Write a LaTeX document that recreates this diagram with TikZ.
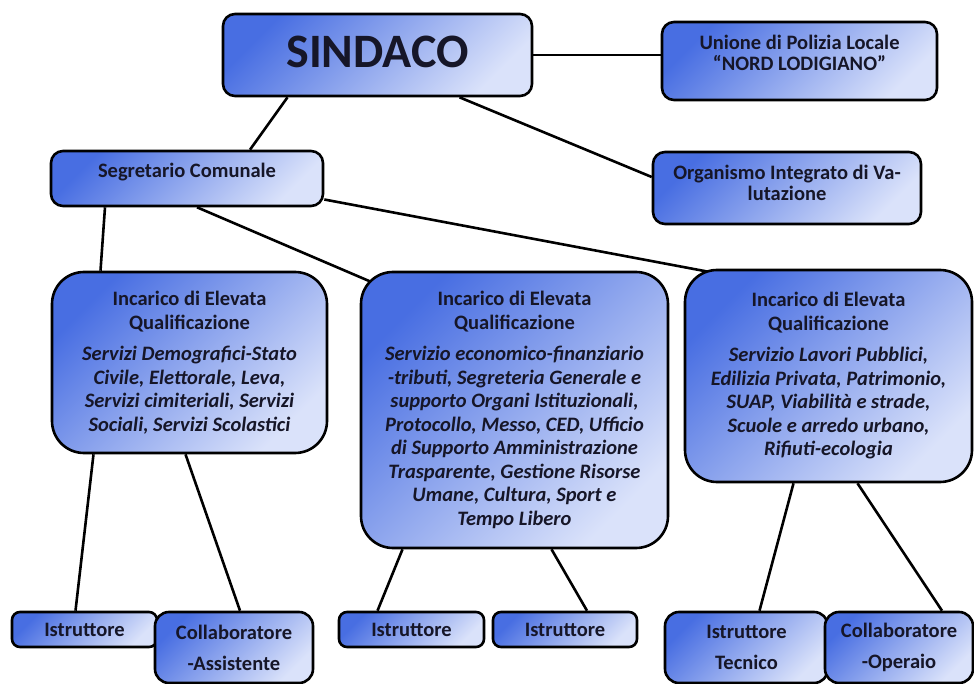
\documentclass[tikz,border=0pt]{standalone}
\usepackage{fontspec}
\setmainfont{Carlito}
\usetikzlibrary{positioning, backgrounds}
\definecolor{boxdark}{RGB}{72, 110, 226}
\definecolor{boxlight}{RGB}{218, 226, 250}
\definecolor{boxtext}{RGB}{22, 22, 40}

\begin{document}
\begin{tikzpicture}[x=1pt, y=-1pt,
    box/.style={rectangle, rounded corners=12pt, draw, line width=2.6pt, top color=boxdark, bottom color=boxlight, shading angle=45, text=boxtext, align=center, inner sep=0pt, font=\bfseries\fontsize{20.5}{23.5}\selectfont},
    bigbox/.style={box, rounded corners=32pt},
    twoline/.style={box, rounded corners=14pt, minimum height=71, font=\bfseries\fontsize{20.5}{31}\selectfont},
    link/.style={line width=2.6pt}
]
\clip (0,0) rectangle (974,684);

% Top level
\node[box, minimum width=309, minimum height=82, text depth=7pt, font=\bfseries\fontsize{48}{50}\selectfont] (sindaco) at (377.5,55) {SINDACO};
\node[box, minimum width=275, minimum height=78, text depth=16pt, font=\bfseries\fontsize{20.5}{20.5}\selectfont] (polizia) at (799.5,61) {Unione di Polizia Locale\\``NORD LODIGIANO''};
\node[box, minimum width=268, minimum height=72, text depth=11pt, font=\bfseries\fontsize{20.5}{21}\selectfont] (oiv) at (787,188) {Organismo Integrato di Va-\\lutazione};
\node[box, minimum width=272, minimum height=55, text depth=16pt] (segretario) at (187,178.5) {Segretario Comunale};

% Incarichi di Elevata Qualificazione
\node[bigbox, minimum width=275, minimum height=181] (eq1) at (189.5,362.5) {Incarico di Elevata\\Qualificazione\\[8pt]
    \textit{Servizi Demografici-Stato}\\\textit{Civile, Elettorale, Leva,}\\\textit{Servizi cimiteriali, Servizi}\\\textit{Sociali, Servizi Scolastici}};
\node[bigbox, minimum width=307, minimum height=276] (eq2) at (514.5,410) {Incarico di Elevata\\Qualificazione\\[8pt]
    \textit{Servizio economico-finanziario}\\\textit{-tributi, Segreteria Generale e}\\\textit{supporto Organi Istituzionali,}\\\textit{Protocollo, Messo, CED, Ufficio}\\\textit{di Supporto Amministrazione}\\\textit{Trasparente, Gestione Risorse}\\\textit{Umane, Cultura, Sport e}\\\textit{Tempo Libero}};
\node[bigbox, minimum width=287, minimum height=212] (eq3) at (828.5,376) {Incarico di Elevata\\Qualificazione\\[8pt]
    \textit{Servizio Lavori Pubblici,}\\\textit{Edilizia Privata, Patrimonio,}\\\textit{SUAP, Viabilità e strade,}\\\textit{Scuole e arredo urbano,}\\\textit{Rifiuti-ecologia}};

% Bottom row
\node[box, rounded corners=8pt, minimum width=145, minimum height=35] (istr1) at (84.5,629.5) {Istruttore};
\node[twoline, minimum width=158] (collab1) at (234,647.5) {Collaboratore\\-Assistente};
\node[box, rounded corners=8pt, minimum width=145, minimum height=35] (istr2) at (411.5,629.5) {Istruttore};
\node[box, rounded corners=8pt, minimum width=144, minimum height=35] (istr3) at (565,629.5) {Istruttore};
\node[twoline, minimum width=163] (istrtec) at (746.5,647.5) {Istruttore\\Tecnico};
\node[twoline, minimum width=148] (collab2) at (899,647.5) {Collaboratore\\-Operaio};

% Connectors
\begin{scope}[on background layer]
\draw[link] ([xshift=-90]sindaco.south) -- ([xshift=63]segretario.north);
\draw[link] (sindaco.east) -- (sindaco.east -| polizia.west);
\draw[link] ([xshift=82]sindaco.south) -- ([yshift=11]oiv.west);
\draw[link] ([xshift=-82]segretario.south) -- ([xshift=-89]eq1.north);
\draw[link] ([xshift=10]segretario.south) -- ([xshift=11,yshift=-11]eq2.north west);
\draw[link] ([yshift=-21]segretario.east) -- ([xshift=-115,yshift=-4]eq3.north);
\draw[link] ([xshift=-96]eq1.south) -- ([xshift=-9]istr1.north);
\draw[link] ([xshift=-4]eq1.south) -- ([xshift=6]collab1.north);
\draw[link] ([xshift=-112]eq2.south) -- ([xshift=-34]istr2.north);
\draw[link] ([xshift=37]eq2.south) -- ([xshift=22]istr3.north);
\draw[link] ([xshift=-35]eq3.south) -- ([xshift=13]istrtec.north);
\draw[link] ([xshift=29]eq3.south) -- ([xshift=43]collab2.north);
\end{scope}
\end{tikzpicture}
\end{document}
